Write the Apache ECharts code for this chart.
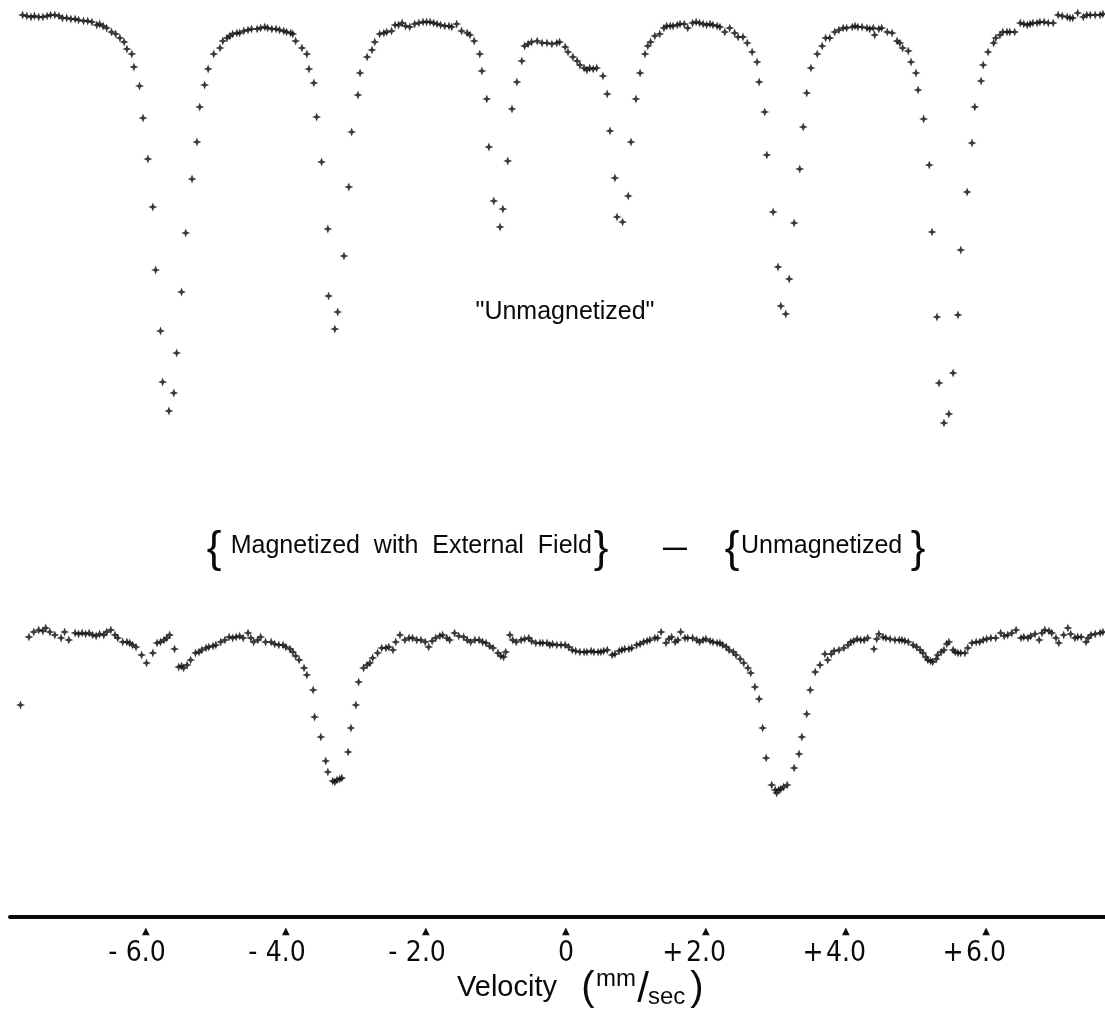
<!DOCTYPE html>
<html>
<head>
<meta charset="utf-8">
<script src="https://cdn.jsdelivr.net/npm/echarts@6/dist/echarts.min.js"></script>
<style>
  html, body { margin: 0; padding: 0; background: #fff; }
  #chart { width: 1105px; height: 1012px; }
</style>
</head>
<body>
<div id="chart"></div>
<script>
// Mössbauer spectra: velocity (mm/sec) vs relative transmission
const tickValues = [-6, -4, -2, 0, 2, 4, 6];
const tickLabels = ['- 6.0', '- 4.0', '- 2.0', '0', '+ 2.0', '+ 4.0', '+ 6.0'];
const topTitle = '"Unmagnetized"';
const diffLeft = 'Magnetized  with  External  Field';
const diffRight = 'Unmagnetized';
const axisTitle = 'Velocity';

// "Unmagnetized" absorber: [velocity, relative transmission]
const unmagnetized = [
  [-7.76,1.003],[-7.70,1.002],[-7.64,1.001],[-7.59,1.002],[-7.53,1.001],[-7.47,1.001],[-7.41,1.002],
  [-7.36,1.003],[-7.30,1.003],[-7.24,1.002],[-7.19,1.000],[-7.13,1.000],[-7.07,0.999],[-7.01,0.999],
  [-6.96,0.998],[-6.89,0.997],[-6.83,0.997],[-6.77,0.996],[-6.70,0.993],[-6.66,0.994],[-6.61,0.992],
  [-6.56,0.990],[-6.49,0.986],[-6.43,0.984],[-6.37,0.980],[-6.31,0.976],[-6.27,0.969],[-6.20,0.964],
  [-6.17,0.951],[-6.09,0.932],[-6.04,0.900],[-5.97,0.859],[-5.90,0.811],[-5.86,0.748],[-5.79,0.687],
  [-5.76,0.636],[-5.67,0.607],[-5.60,0.625],[-5.56,0.665],[-5.49,0.726],[-5.43,0.785],[-5.34,0.839],
  [-5.27,0.876],[-5.23,0.911],[-5.16,0.933],[-5.11,0.949],[-5.03,0.964],[-4.94,0.970],[-4.90,0.977],
  [-4.84,0.980],[-4.80,0.982],[-4.76,0.984],[-4.70,0.985],[-4.66,0.985],[-4.60,0.987],[-4.54,0.988],
  [-4.49,0.989],[-4.41,0.989],[-4.36,0.990],[-4.30,0.991],[-4.26,0.990],[-4.20,0.989],[-4.14,0.989],
  [-4.09,0.988],[-4.03,0.987],[-3.99,0.986],[-3.93,0.985],[-3.90,0.984],[-3.86,0.977],[-3.77,0.970],
  [-3.70,0.964],[-3.67,0.949],[-3.60,0.935],[-3.56,0.901],[-3.49,0.856],[-3.40,0.789],[-3.39,0.722],
  [-3.30,0.689],[-3.26,0.706],[-3.17,0.762],[-3.10,0.831],[-3.06,0.886],[-2.97,0.923],[-2.94,0.945],
  [-2.84,0.961],[-2.77,0.968],[-2.73,0.976],[-2.66,0.984],[-2.60,0.985],[-2.56,0.986],[-2.49,0.987],
  [-2.44,0.993],[-2.39,0.993],[-2.34,0.995],[-2.29,0.992],[-2.23,0.991],[-2.16,0.994],[-2.10,0.995],
  [-2.04,0.996],[-1.99,0.996],[-1.94,0.996],[-1.89,0.995],[-1.84,0.994],[-1.79,0.993],[-1.73,0.992],
  [-1.67,0.992],[-1.63,0.991],[-1.56,0.994],[-1.49,0.987],[-1.41,0.985],[-1.37,0.983],[-1.31,0.977],
  [-1.23,0.964],[-1.20,0.947],[-1.13,0.919],[-1.10,0.871],[-1.03,0.817],[-0.94,0.791],[-0.90,0.809],
  [-0.83,0.857],[-0.77,0.909],[-0.70,0.936],[-0.63,0.957],[-0.59,0.972],[-0.54,0.974],[-0.49,0.976],
  [-0.41,0.977],[-0.34,0.975],[-0.27,0.975],[-0.20,0.974],[-0.13,0.975],[-0.09,0.976],[-0.01,0.971],
  [0.03,0.966],[0.10,0.961],[0.16,0.957],[0.20,0.953],[0.26,0.950],[0.30,0.948],[0.34,0.950],
  [0.39,0.949],[0.44,0.950],[0.53,0.942],[0.59,0.924],[0.63,0.887],[0.70,0.840],[0.73,0.801],
  [0.81,0.796],[0.89,0.822],[0.93,0.876],[1.00,0.919],[1.06,0.945],[1.13,0.964],[1.17,0.972],
  [1.21,0.976],[1.27,0.982],[1.34,0.984],[1.40,0.990],[1.44,0.992],[1.49,0.992],[1.53,0.992],
  [1.59,0.993],[1.63,0.994],[1.69,0.994],[1.74,0.990],[1.81,0.995],[1.86,0.996],[1.91,0.995],
  [1.96,0.994],[2.01,0.993],[2.06,0.994],[2.10,0.993],[2.16,0.992],[2.20,0.991],[2.27,0.986],
  [2.34,0.990],[2.41,0.985],[2.46,0.981],[2.53,0.981],[2.59,0.975],[2.66,0.966],[2.73,0.956],
  [2.76,0.936],[2.84,0.906],[2.87,0.863],[2.96,0.806],[3.03,0.751],[3.07,0.712],[3.14,0.704],
  [3.19,0.739],[3.26,0.795],[3.34,0.849],[3.39,0.891],[3.44,0.925],[3.50,0.950],[3.59,0.964],
  [3.66,0.972],[3.71,0.980],[3.77,0.980],[3.84,0.986],[3.90,0.988],[3.96,0.990],[4.01,0.990],
  [4.09,0.991],[4.13,0.992],[4.17,0.991],[4.23,0.991],[4.30,0.990],[4.34,0.989],[4.39,0.990],
  [4.41,0.983],[4.47,0.989],[4.51,0.990],[4.59,0.986],[4.66,0.985],[4.73,0.977],[4.77,0.975],
  [4.81,0.970],[4.89,0.967],[4.93,0.956],[5.00,0.945],[5.03,0.928],[5.11,0.899],[5.19,0.853],
  [5.23,0.786],[5.30,0.701],[5.33,0.635],[5.40,0.595],[5.47,0.604],[5.53,0.645],[5.60,0.703],
  [5.64,0.768],[5.73,0.826],[5.80,0.875],[5.84,0.911],[5.93,0.937],[5.96,0.953],[6.03,0.966],
  [6.11,0.975],[6.14,0.980],[6.20,0.983],[6.24,0.986],[6.30,0.986],[6.34,0.986],[6.41,0.986],
  [6.49,0.995],[6.54,0.994],[6.59,0.993],[6.63,0.994],[6.67,0.995],[6.73,0.995],[6.77,0.996],
  [6.83,0.996],[6.89,0.995],[6.96,0.995],[7.03,1.003],[7.09,1.002],[7.16,1.001],[7.20,1.000],
  [7.24,1.000],[7.31,1.005],[7.39,1.001],[7.44,1.003],[7.49,1.003],[7.56,1.003],[7.63,1.003],
  [7.67,1.004]
];

// {Magnetized with External Field} - {Unmagnetized}: [velocity, transmission difference]
const difference = [
  [-7.79,-0.070],[-7.67,-0.002],[-7.60,0.003],[-7.53,0.005],[-7.47,0.004],[-7.43,0.007],[-7.37,0.003],
  [-7.30,0.000],[-7.21,-0.003],[-7.16,0.003],[-7.10,-0.005],[-7.01,0.002],[-6.96,0.001],[-6.91,0.002],
  [-6.86,0.001],[-6.81,0.002],[-6.76,0.000],[-6.71,-0.001],[-6.66,0.001],[-6.60,0.000],[-6.56,0.003],
  [-6.50,0.005],[-6.44,0.000],[-6.40,-0.003],[-6.33,-0.007],[-6.27,-0.007],[-6.23,-0.008],[-6.19,-0.010],
  [-6.14,-0.012],[-6.06,-0.020],[-5.99,-0.028],[-5.90,-0.018],[-5.84,-0.008],[-5.79,-0.007],[-5.74,-0.005],
  [-5.70,-0.003],[-5.66,0.000],[-5.59,-0.014],[-5.53,-0.032],[-5.49,-0.031],[-5.46,-0.033],[-5.41,-0.030],
  [-5.36,-0.025],[-5.29,-0.018],[-5.24,-0.017],[-5.20,-0.015],[-5.14,-0.013],[-5.10,-0.012],[-5.04,-0.011],
  [-5.00,-0.010],[-4.93,-0.007],[-4.87,-0.005],[-4.81,-0.002],[-4.76,-0.003],[-4.71,-0.002],[-4.66,-0.001],
  [-4.61,-0.003],[-4.54,0.002],[-4.50,-0.003],[-4.46,-0.007],[-4.40,-0.005],[-4.36,-0.002],[-4.29,-0.007],
  [-4.21,-0.007],[-4.16,-0.009],[-4.10,-0.010],[-4.04,-0.010],[-4.00,-0.012],[-3.94,-0.014],[-3.90,-0.017],
  [-3.86,-0.021],[-3.81,-0.025],[-3.74,-0.033],[-3.70,-0.040],[-3.61,-0.055],[-3.59,-0.082],[-3.50,-0.102],
  [-3.43,-0.126],[-3.40,-0.137],[-3.33,-0.146],[-3.30,-0.147],[-3.27,-0.145],[-3.23,-0.144],[-3.20,-0.143],
  [-3.11,-0.117],[-3.07,-0.093],[-3.00,-0.070],[-2.96,-0.047],[-2.89,-0.033],[-2.84,-0.030],[-2.80,-0.028],
  [-2.76,-0.023],[-2.69,-0.018],[-2.63,-0.013],[-2.57,-0.013],[-2.53,-0.012],[-2.47,-0.015],[-2.43,-0.007],
  [-2.37,0.000],[-2.30,-0.005],[-2.24,-0.003],[-2.19,-0.003],[-2.13,-0.005],[-2.07,-0.005],[-2.01,-0.007],
  [-1.96,-0.012],[-1.91,-0.006],[-1.86,-0.003],[-1.80,-0.001],[-1.76,0.000],[-1.70,-0.003],[-1.66,-0.005],
  [-1.59,0.002],[-1.53,-0.001],[-1.46,-0.002],[-1.41,-0.005],[-1.36,-0.007],[-1.30,-0.005],[-1.24,-0.005],
  [-1.19,-0.007],[-1.14,-0.008],[-1.09,-0.011],[-1.04,-0.013],[-0.97,-0.018],[-0.93,-0.021],[-0.89,-0.022],
  [-0.86,-0.017],[-0.80,0.000],[-0.76,-0.005],[-0.71,-0.007],[-0.64,-0.005],[-0.59,-0.004],[-0.53,-0.003],
  [-0.49,-0.006],[-0.43,-0.008],[-0.37,-0.008],[-0.33,-0.008],[-0.27,-0.008],[-0.23,-0.010],[-0.19,-0.009],
  [-0.13,-0.010],[-0.07,-0.010],[-0.01,-0.010],[0.04,-0.012],[0.09,-0.015],[0.14,-0.016],[0.20,-0.017],
  [0.26,-0.017],[0.30,-0.017],[0.36,-0.016],[0.40,-0.017],[0.46,-0.017],[0.50,-0.017],[0.54,-0.016],
  [0.59,-0.015],[0.66,-0.020],[0.70,-0.019],[0.76,-0.016],[0.80,-0.015],[0.84,-0.014],[0.90,-0.014],
  [0.94,-0.013],[1.01,-0.010],[1.06,-0.009],[1.11,-0.007],[1.16,-0.006],[1.20,-0.005],[1.27,-0.003],
  [1.31,-0.003],[1.36,0.003],[1.43,-0.008],[1.47,-0.004],[1.51,-0.002],[1.56,-0.007],[1.60,-0.005],
  [1.64,0.003],[1.70,-0.003],[1.74,-0.003],[1.81,-0.003],[1.87,-0.005],[1.91,-0.007],[1.96,-0.005],
  [2.00,-0.004],[2.06,-0.006],[2.10,-0.007],[2.16,-0.008],[2.20,-0.008],[2.24,-0.010],[2.29,-0.012],
  [2.33,-0.015],[2.39,-0.017],[2.43,-0.020],[2.49,-0.024],[2.54,-0.028],[2.60,-0.033],[2.64,-0.038],
  [2.70,-0.052],[2.76,-0.064],[2.81,-0.093],[2.86,-0.123],[2.94,-0.150],[2.99,-0.155],[3.01,-0.158],
  [3.04,-0.155],[3.07,-0.154],[3.11,-0.152],[3.16,-0.150],[3.26,-0.133],[3.33,-0.119],[3.37,-0.102],
  [3.44,-0.079],[3.49,-0.055],[3.56,-0.037],[3.63,-0.030],[3.70,-0.019],[3.74,-0.025],[3.79,-0.019],
  [3.83,-0.016],[3.90,-0.015],[3.97,-0.013],[4.03,-0.010],[4.07,-0.007],[4.11,-0.006],[4.16,-0.004],
  [4.21,-0.005],[4.26,-0.005],[4.31,-0.003],[4.40,-0.014],[4.44,-0.004],[4.47,0.001],[4.53,-0.002],
  [4.57,-0.003],[4.63,-0.004],[4.70,-0.005],[4.76,-0.005],[4.80,-0.005],[4.84,-0.006],[4.89,-0.007],
  [4.96,-0.010],[5.01,-0.012],[5.06,-0.015],[5.10,-0.018],[5.14,-0.022],[5.17,-0.025],[5.21,-0.026],
  [5.24,-0.027],[5.29,-0.024],[5.31,-0.020],[5.36,-0.017],[5.40,-0.015],[5.44,-0.009],[5.47,-0.007],
  [5.53,-0.015],[5.56,-0.017],[5.60,-0.018],[5.64,-0.018],[5.70,-0.018],[5.74,-0.013],[5.80,-0.008],
  [5.86,-0.007],[5.91,-0.007],[5.96,-0.005],[6.01,-0.004],[6.07,-0.003],[6.14,-0.003],[6.21,0.002],
  [6.26,-0.001],[6.31,0.000],[6.37,0.002],[6.43,0.005],[6.50,-0.003],[6.54,-0.002],[6.60,-0.003],
  [6.64,-0.001],[6.70,0.001],[6.76,-0.005],[6.80,0.002],[6.84,0.005],[6.90,0.004],[6.94,0.002],
  [7.00,-0.003],[7.04,-0.008],[7.11,0.000],[7.17,0.007],[7.21,0.001],[7.27,-0.003],[7.31,-0.002],
  [7.36,-0.002],[7.43,-0.007],[7.46,-0.003],[7.50,0.000],[7.56,0.001],[7.63,0.002],[7.67,0.003]
];

const V_MIN = -7.94, V_MAX = 7.70;
const AXIS_Y = 917;           // baseline of the velocity axis
const SANS = '"Liberation Sans", Arial, Helvetica, sans-serif';
const NARROW = '"Liberation Sans Narrow", "DejaVu Sans Condensed", "Liberation Sans", sans-serif';
const INK = '#0a0a0a';
const PLUS = 'path://M5,0 L6.4,3.6 L10,5 L6.4,6.4 L5,10 L3.6,6.4 L0,5 L3.6,3.6 Z';

function tickFormatter(value) {
  const i = tickValues.findIndex(t => Math.abs(t - value) < 1e-6);
  if (i < 0) return '';
  const lab = tickLabels[i];
  const m = lab.match(/^([+-])\s*(.+)$/);
  if (m) return '{tri|\u25B2}\n{s|' + m[1] + '}{n|' + m[2] + '}{p|}';
  return '{tri|\u25B2}\n{n|' + lab + '}';
}

const chart = echarts.init(document.getElementById('chart'), null, { renderer: 'canvas' });

function txt(x, y, text, font, align) {
  return {
    type: 'text', x: x, y: y,
    style: { text: text, font: font, fill: INK, align: align, verticalAlign: 'middle', textAlign: align, textVerticalAlign: 'middle' }
  };
}

const option = {
  backgroundColor: '#ffffff',
  animation: false,
  grid: [
    { left: 10, width: 1095, top: 0, height: 440 },
    { left: 10, width: 1095, top: 600, height: AXIS_Y - 600 }
  ],
  xAxis: [
    { type: 'value', gridIndex: 0, min: V_MIN, max: V_MAX, show: false },
    {
      type: 'value', gridIndex: 1, min: V_MIN, max: V_MAX,
      axisLine: { show: true, onZero: false, lineStyle: { color: INK, width: 4 } },
      axisTick: { show: false },
      splitLine: { show: false },
      axisLabel: {
        show: true,
        customValues: tickValues,
        margin: 9,
        formatter: tickFormatter,
        rich: {
          tri: { fontSize: 10, lineHeight: 10, color: INK, fontFamily: '"DejaVu Sans", sans-serif', align: 'center' },
          s: { fontSize: 28, lineHeight: 36, width: 26, color: INK, fontFamily: NARROW, align: 'center' },
          n: { fontSize: 28, lineHeight: 36, color: INK, fontFamily: NARROW, align: 'center' },
          p: { fontSize: 28, lineHeight: 36, width: 26, align: 'center' }
        }
      }
    }
  ],
  yAxis: [
    { type: 'value', gridIndex: 0, min: 0.578, max: 1.018, show: false },
    { type: 'value', gridIndex: 1, min: 0.035 - (AXIS_Y - 600) / 1000, max: 0.035, show: false }
  ],
  series: [
    {
      name: 'Unmagnetized', type: 'scatter', xAxisIndex: 0, yAxisIndex: 0,
      data: unmagnetized, symbol: PLUS, symbolSize: 9,
      itemStyle: { color: INK }, clip: false
    },
    {
      name: 'Difference', type: 'scatter', xAxisIndex: 1, yAxisIndex: 1,
      data: difference, symbol: PLUS, symbolSize: 9,
      itemStyle: { color: INK }, clip: false
    }
  ],
  graphic: [
    // label inside the upper spectrum
    txt(565, 312, topTitle, '25px ' + SANS, 'center'),

    // {Magnetized with External Field} - {Unmagnetized}
    txt(214, 550, '{', '44px ' + SANS, 'center'),
    txt(592, 546, diffLeft, '25px ' + SANS, 'right'),
    txt(601, 550, '}', '44px ' + SANS, 'center'),
    txt(675, 548, '\u2014', 'bold 24px ' + SANS, 'center'),
    txt(732, 550, '{', '44px ' + SANS, 'center'),
    txt(741, 546, diffRight, '25px ' + SANS, 'left'),
    txt(918, 550, '}', '44px ' + SANS, 'center'),

    // axis title: Velocity (mm/sec)
    txt(507, AXIS_Y + 71, axisTitle, '29px ' + SANS, 'center'),
    txt(588, AXIS_Y + 72, '(', '40px ' + SANS, 'center'),
    txt(596, AXIS_Y + 62, 'mm', '24px ' + SANS, 'left'),
    txt(643, AXIS_Y + 73, '/', '42px ' + SANS, 'center'),
    txt(648, AXIS_Y + 80, 'sec', '24px ' + SANS, 'left'),
    txt(697, AXIS_Y + 72, ')', '40px ' + SANS, 'center')
  ]
};

chart.setOption(option);
</script>
</body>
</html>
